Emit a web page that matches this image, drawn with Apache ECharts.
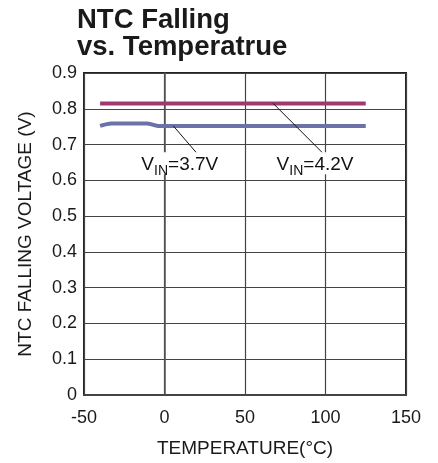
<!DOCTYPE html>
<html>
<head>
<meta charset="utf-8">
<script src="https://cdn.jsdelivr.net/npm/echarts@6/dist/echarts.min.js"></script>
<style>html,body{margin:0;padding:0;background:#fff}#c{width:438px;height:463px}</style>
</head>
<body>
<div id="c"></div>
<script>
var titleText = "NTC Falling\nvs. Temperatrue";
var xName = "TEMPERATURE(°C)";
var yName = "NTC FALLING VOLTAGE (V)";
var temps = [-40, -33, -25, -11, -4, 0, 25, 50, 75, 100, 125];
var vin42 = [0.815, 0.815, 0.815, 0.815, 0.815, 0.815, 0.815, 0.815, 0.815, 0.815, 0.815];
var vin37 = [0.752, 0.759, 0.759, 0.759, 0.752, 0.752, 0.752, 0.752, 0.752, 0.752, 0.752];
var leader37 = [[5.5, 0.752], [21, 0.671]];
var leader42 = [[67.5, 0.815], [101, 0.664]];
var labels = [
  {name: "3.7V", pos: [9.5, 0.648]},
  {name: "4.2V", pos: [93.5, 0.648]}
];
var FONT = "Liberation Sans, Arial, sans-serif";

function zip(xs, ys) { return xs.map(function (x, i) { return [x, ys[i]]; }); }

var chart = echarts.init(document.getElementById('c'));
chart.setOption({
  animation: false,
  title: {
    text: titleText, left: 72, top: 2,
    textStyle: {fontFamily: FONT, fontSize: 27.5, fontWeight: 'bold', color: '#1a1a1a', lineHeight: 27}
  },
  grid: {left: 84, right: 32, top: 73, bottom: 68, show: true, borderColor: '#222', borderWidth: 2, backgroundColor: '#fff'},
  xAxis: {
    type: 'value', min: -50, max: 150, interval: 50,
    name: xName, nameLocation: 'middle', nameGap: 44,
    nameTextStyle: {fontFamily: FONT, fontSize: 19, color: '#1a1a1a'},
    axisLine: {show: true, lineStyle: {color: '#444', width: 2}},
    axisTick: {show: false},
    axisLabel: {fontFamily: FONT, fontSize: 18, color: '#1a1a1a', margin: 14},
    splitLine: {show: true, lineStyle: {color: '#444', width: 1.2}}
  },
  yAxis: {
    type: 'value', min: 0, max: 0.9, interval: 0.1,
    name: yName, nameLocation: 'middle', nameGap: 49,
    nameTextStyle: {fontFamily: FONT, fontSize: 19, color: '#1a1a1a'},
    axisLine: {show: true, lineStyle: {color: '#555', width: 1.5}},
    axisTick: {show: false},
    axisLabel: {fontFamily: FONT, fontSize: 18, color: '#1a1a1a', margin: 7,
      formatter: function (v) { return v === 0 ? '0' : v.toFixed(1); }},
    splitLine: {show: true, lineStyle: {color: '#444', width: 1.2}}
  },
  series: [
    {type: 'line', data: zip(temps, vin42), symbol: 'none', lineStyle: {color: '#9e3a70', width: 4}, z: 3},
    {type: 'line', data: zip(temps, vin37), symbol: 'none', smooth: 0.3, lineStyle: {color: '#6a72a8', width: 4}, z: 3},
    {type: 'line', data: leader37, symbol: 'none', lineStyle: {color: '#111', width: 1}, z: 4},
    {type: 'line', data: leader42, symbol: 'none', lineStyle: {color: '#111', width: 1}, z: 4},
    {
      type: 'scatter', symbolSize: 1, z: 5,
      itemStyle: {opacity: 1, color: 'rgba(0,0,0,0)'},
      data: labels.map(function (l) { return {value: l.pos, name: l.name}; }),
      label: {
        show: true, position: 'inside', color: '#111',
        formatter: function (p) { return '{v|V}{s|IN}{v|=' + p.name + '}'; },
        backgroundColor: '#fff', padding: [0, 1, 0, 1],
        rich: {
          v: {fontFamily: FONT, fontSize: 19, color: '#111', verticalAlign: 'bottom', lineHeight: 22},
          s: {fontFamily: FONT, fontSize: 14, color: '#111', verticalAlign: 'bottom', lineHeight: 18, padding: [0,0,-4,0]}
        }
      }
    }
  ]
});
</script>
</body>
</html>
